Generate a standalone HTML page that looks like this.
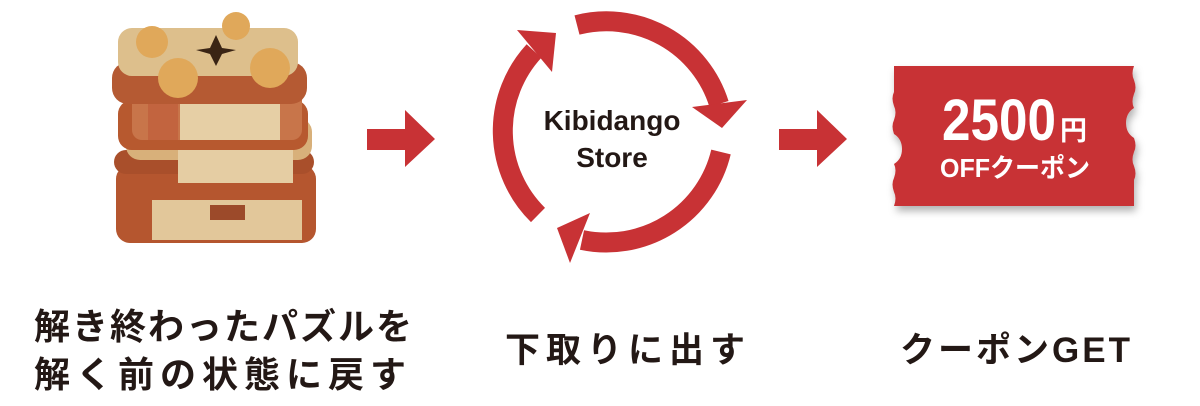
<!DOCTYPE html>
<html><head><meta charset="utf-8"><style>
html,body{margin:0;padding:0;background:#fff;}
body{width:1200px;height:406px;position:relative;overflow:hidden;font-family:"Liberation Sans","Noto Sans CJK JP",sans-serif;}
.t{position:absolute;font-weight:bold;color:#231815;font-size:35px;white-space:nowrap;}
</style></head><body>
<svg width="1200" height="406" style="position:absolute;left:0;top:0">
<defs><filter id="sh" x="-10%" y="-10%" width="130%" height="140%"><feDropShadow dx="2" dy="5" stdDeviation="4" flood-color="#000" flood-opacity="0.3"/></filter></defs>
<g>
<rect x="116" y="165" width="200" height="78" rx="14" fill="#b5562f"/>
<rect x="152" y="200" width="150" height="40" fill="#e2c79a"/>
<rect x="210" y="205" width="35" height="15" fill="#9c4a2a"/>
<rect x="114" y="150" width="200" height="24" rx="12" fill="#a94f2b"/>
<rect x="126" y="118" width="186" height="42" rx="14" fill="#d8b07a"/>
<rect x="178" y="148" width="115" height="35" fill="#e5cda3"/>
<rect x="118" y="100" width="190" height="50" rx="14" fill="#b7592f"/>
<rect x="132" y="82" width="170" height="58" rx="10" fill="#c8754a"/>
<rect x="180" y="98" width="100" height="42" fill="#e6cfa5"/>
<rect x="148" y="98" width="30" height="42" fill="#c2643f"/>
<rect x="112" y="62" width="195" height="42" rx="16" fill="#b55a33"/>
<rect x="118" y="28" width="180" height="48" rx="14" fill="#ddbf8c"/>
<circle cx="152" cy="42" r="16" fill="#e0a85a"/>
<circle cx="270" cy="68" r="20" fill="#e0a85a"/>
<circle cx="178" cy="78" r="20" fill="#e0a85a"/>
<circle cx="236" cy="26" r="14" fill="#e0a85a"/>
<polygon points="216,35 222,48 236,50 222,54 216,66 210,54 196,50 210,48" fill="#3a2414"/>
</g>
<polygon points="367,129 405,129 405,110 435,139 405,167 405,150 367,150" fill="#c83235"/>
<polygon points="779,129 817,129 817,110 847,139 817,167 817,150 779,150" fill="#c83235"/>
<g fill="none" stroke="#c83235" stroke-width="20">
<path d="M577,25 A118,118 0 0 1 719,104"/>
<path d="M721,152 A118,118 0 0 1 582,240"/>
<path d="M538,215 A118,118 0 0 1 534,51"/>
</g>
<g fill="#c83235">
<polygon points="692,107 747,100 722,128"/>
<polygon points="590,213 557,228 570,263"/>
<polygon points="517,30 556,33 552,72"/>
</g>
<text x="612" y="130" text-anchor="middle" font-family="Liberation Sans, sans-serif" font-weight="bold" font-size="28" fill="#231815">Kibidango</text>
<text x="612" y="167" text-anchor="middle" font-family="Liberation Sans, sans-serif" font-weight="bold" font-size="28" fill="#231815">Store</text>
<path filter="url(#sh)" fill="#c83235" d="M894,66 H1134 q-3,8 0,14 q3,8 0,14 q-3,8 0,14 q-8,5 -8,15 q0,10 8,15 q3,8 0,14 q-3,8 0,14 q3,8 0,14 V206 H894 q3,-8 0,-14 q-3,-8 0,-14 q3,-8 0,-14 q8,-5 8,-15 q0,-10 -8,-15 q-3,-8 0,-14 q3,-8 0,-14 q-3,-8 0,-14 Z"/>
<text x="942" y="140" font-family="Liberation Sans, sans-serif" font-weight="bold" font-size="58" fill="#fff" textLength="114" lengthAdjust="spacingAndGlyphs">2500</text>
<text x="1060" y="140" font-family="Noto Sans CJK JP, sans-serif" font-weight="bold" font-size="27" fill="#fff">円</text>
<text x="940" y="177" font-family="Liberation Sans, Noto Sans CJK JP, sans-serif" font-weight="bold" font-size="26" fill="#fff" textLength="150" lengthAdjust="spacingAndGlyphs">OFFクーポン</text>
</svg>
<div class="t" style="left:34px;top:298px;font-size:36px;letter-spacing:2px">解き終わったパズルを</div>
<div class="t" style="left:34px;top:346px;font-size:36px;letter-spacing:6px">解く前の状態に戻す</div>
<div class="t" style="left:505px;top:322px;letter-spacing:6px">下取りに出す</div>
<div class="t" style="left:900px;top:322px;letter-spacing:3px">クーポンGET</div>
</body></html>
